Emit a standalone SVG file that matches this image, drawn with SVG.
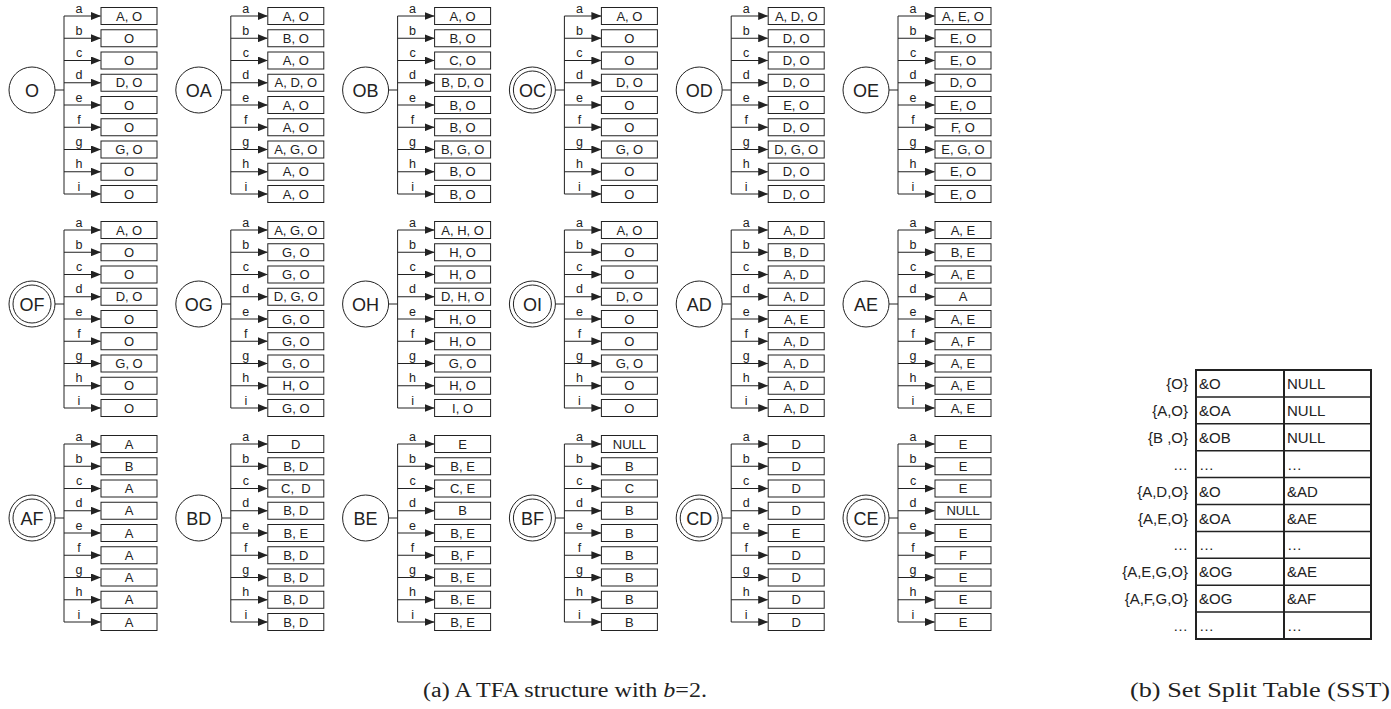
<svg xmlns="http://www.w3.org/2000/svg" xmlns:xlink="http://www.w3.org/1999/xlink" width="1391" height="709" viewBox="0 0 1391 709">
<style>
.ln{stroke:#222;stroke-width:1;fill:none}
.lab{font-family:"Liberation Sans",Arial,sans-serif;font-size:12.5px;fill:#222;text-anchor:middle}
.bx{fill:#fff;stroke:#222;stroke-width:1}
.bt{font-family:"Liberation Sans",Arial,sans-serif;font-size:13px;fill:#222;text-anchor:middle}
.cir{fill:#fff;stroke:#222;stroke-width:1}
.nm{font-family:"Liberation Sans",Arial,sans-serif;font-size:18px;fill:#222;text-anchor:middle}
.tl{stroke:#222;stroke-width:2;fill:none}
.th{stroke:#222;stroke-width:1.5;fill:none}
.tt{font-family:"Liberation Sans",Arial,sans-serif;font-size:15px;fill:#222}
.cap{font-family:"Liberation Serif","Times New Roman",serif;font-size:20px;fill:#222}
</style>
<defs>
<marker id="ah" markerWidth="10" markerHeight="8" refX="9.5" refY="4" orient="auto" markerUnits="userSpaceOnUse">
<path d="M0,0 L10,4 L0,8 z" fill="#222"/>
</marker>
<g id="fan">
<path class="ln" d="M55,90 H64 M64,16 V194"/>
<path class="ln" marker-end="url(#ah)" d="M64,16 H100.5"/>
<path class="ln" marker-end="url(#ah)" d="M64,38.25 H100.5"/>
<path class="ln" marker-end="url(#ah)" d="M64,60.5 H100.5"/>
<path class="ln" marker-end="url(#ah)" d="M64,82.75 H100.5"/>
<path class="ln" marker-end="url(#ah)" d="M64,105 H100.5"/>
<path class="ln" marker-end="url(#ah)" d="M64,127.25 H100.5"/>
<path class="ln" marker-end="url(#ah)" d="M64,149.5 H100.5"/>
<path class="ln" marker-end="url(#ah)" d="M64,171.75 H100.5"/>
<path class="ln" marker-end="url(#ah)" d="M64,194 H100.5"/>
<text class="lab" x="79" y="12.5">a</text>
<text class="lab" x="79" y="34.75">b</text>
<text class="lab" x="79" y="57">c</text>
<text class="lab" x="79" y="79.25">d</text>
<text class="lab" x="79" y="101.5">e</text>
<text class="lab" x="79" y="123.75">f</text>
<text class="lab" x="79" y="146">g</text>
<text class="lab" x="79" y="168.25">h</text>
<text class="lab" x="79" y="190.5">i</text>
</g>
<g id="boxes">
<rect class="bx" x="101" y="7.5" width="56" height="17"/>
<rect class="bx" x="101" y="29.75" width="56" height="17"/>
<rect class="bx" x="101" y="52" width="56" height="17"/>
<rect class="bx" x="101" y="74.25" width="56" height="17"/>
<rect class="bx" x="101" y="96.5" width="56" height="17"/>
<rect class="bx" x="101" y="118.75" width="56" height="17"/>
<rect class="bx" x="101" y="141" width="56" height="17"/>
<rect class="bx" x="101" y="163.25" width="56" height="17"/>
<rect class="bx" x="101" y="185.5" width="56" height="17"/>
</g>
<g id="c1"><circle class="cir" cx="32" cy="90" r="23"/></g>
<g id="c2"><circle class="cir" cx="32" cy="90" r="23"/><circle class="cir" cx="32" cy="90" r="19"/></g>
</defs>

<g id="connectors">
<use xlink:href="#fan" transform="translate(0,0)"/>
<use xlink:href="#fan" transform="translate(166.8,0)"/>
<use xlink:href="#fan" transform="translate(333.6,0)"/>
<use xlink:href="#fan" transform="translate(500.4,0)"/>
<use xlink:href="#fan" transform="translate(667.2,0)"/>
<use xlink:href="#fan" transform="translate(834,0)"/>
<use xlink:href="#fan" transform="translate(0,214)"/>
<use xlink:href="#fan" transform="translate(166.8,214)"/>
<use xlink:href="#fan" transform="translate(333.6,214)"/>
<use xlink:href="#fan" transform="translate(500.4,214)"/>
<use xlink:href="#fan" transform="translate(667.2,214)"/>
<use xlink:href="#fan" transform="translate(834,214)"/>
<use xlink:href="#fan" transform="translate(0,428)"/>
<use xlink:href="#fan" transform="translate(166.8,428)"/>
<use xlink:href="#fan" transform="translate(333.6,428)"/>
<use xlink:href="#fan" transform="translate(500.4,428)"/>
<use xlink:href="#fan" transform="translate(667.2,428)"/>
<use xlink:href="#fan" transform="translate(834,428)"/>
</g>

<g id="node-O" transform="translate(0,0)">
<use xlink:href="#c1"/><text class="nm" x="32" y="96.5">O</text>
<use xlink:href="#boxes"/>
<text class="bt" x="129" y="20.7">A, O</text><text class="bt" x="129" y="42.95">O</text><text class="bt" x="129" y="65.2">O</text><text class="bt" x="129" y="87.45">D, O</text><text class="bt" x="129" y="109.7">O</text><text class="bt" x="129" y="131.95">O</text><text class="bt" x="129" y="154.2">G, O</text><text class="bt" x="129" y="176.45">O</text><text class="bt" x="129" y="198.7">O</text>
</g>
<g id="node-OA" transform="translate(166.8,0)">
<use xlink:href="#c1"/><text class="nm" x="32" y="96.5">OA</text>
<use xlink:href="#boxes"/>
<text class="bt" x="129" y="20.7">A, O</text><text class="bt" x="129" y="42.95">B, O</text><text class="bt" x="129" y="65.2">A, O</text><text class="bt" x="129" y="87.45">A, D, O</text><text class="bt" x="129" y="109.7">A, O</text><text class="bt" x="129" y="131.95">A, O</text><text class="bt" x="129" y="154.2">A, G, O</text><text class="bt" x="129" y="176.45">A, O</text><text class="bt" x="129" y="198.7">A, O</text>
</g>
<g id="node-OB" transform="translate(333.6,0)">
<use xlink:href="#c1"/><text class="nm" x="32" y="96.5">OB</text>
<use xlink:href="#boxes"/>
<text class="bt" x="129" y="20.7">A, O</text><text class="bt" x="129" y="42.95">B, O</text><text class="bt" x="129" y="65.2">C, O</text><text class="bt" x="129" y="87.45">B, D, O</text><text class="bt" x="129" y="109.7">B, O</text><text class="bt" x="129" y="131.95">B, O</text><text class="bt" x="129" y="154.2">B, G, O</text><text class="bt" x="129" y="176.45">B, O</text><text class="bt" x="129" y="198.7">B, O</text>
</g>
<g id="node-OC" transform="translate(500.4,0)">
<use xlink:href="#c2"/><text class="nm" x="32" y="96.5">OC</text>
<use xlink:href="#boxes"/>
<text class="bt" x="129" y="20.7">A, O</text><text class="bt" x="129" y="42.95">O</text><text class="bt" x="129" y="65.2">O</text><text class="bt" x="129" y="87.45">D, O</text><text class="bt" x="129" y="109.7">O</text><text class="bt" x="129" y="131.95">O</text><text class="bt" x="129" y="154.2">G, O</text><text class="bt" x="129" y="176.45">O</text><text class="bt" x="129" y="198.7">O</text>
</g>
<g id="node-OD" transform="translate(667.2,0)">
<use xlink:href="#c1"/><text class="nm" x="32" y="96.5">OD</text>
<use xlink:href="#boxes"/>
<text class="bt" x="129" y="20.7">A, D, O</text><text class="bt" x="129" y="42.95">D, O</text><text class="bt" x="129" y="65.2">D, O</text><text class="bt" x="129" y="87.45">D, O</text><text class="bt" x="129" y="109.7">E, O</text><text class="bt" x="129" y="131.95">D, O</text><text class="bt" x="129" y="154.2">D, G, O</text><text class="bt" x="129" y="176.45">D, O</text><text class="bt" x="129" y="198.7">D, O</text>
</g>
<g id="node-OE" transform="translate(834,0)">
<use xlink:href="#c1"/><text class="nm" x="32" y="96.5">OE</text>
<use xlink:href="#boxes"/>
<text class="bt" x="129" y="20.7">A, E, O</text><text class="bt" x="129" y="42.95">E, O</text><text class="bt" x="129" y="65.2">E, O</text><text class="bt" x="129" y="87.45">D, O</text><text class="bt" x="129" y="109.7">E, O</text><text class="bt" x="129" y="131.95">F, O</text><text class="bt" x="129" y="154.2">E, G, O</text><text class="bt" x="129" y="176.45">E, O</text><text class="bt" x="129" y="198.7">E, O</text>
</g>

<g id="node-OF" transform="translate(0,214)">
<use xlink:href="#c2"/><text class="nm" x="32" y="96.5">OF</text>
<use xlink:href="#boxes"/>
<text class="bt" x="129" y="20.7">A, O</text><text class="bt" x="129" y="42.95">O</text><text class="bt" x="129" y="65.2">O</text><text class="bt" x="129" y="87.45">D, O</text><text class="bt" x="129" y="109.7">O</text><text class="bt" x="129" y="131.95">O</text><text class="bt" x="129" y="154.2">G, O</text><text class="bt" x="129" y="176.45">O</text><text class="bt" x="129" y="198.7">O</text>
</g>
<g id="node-OG" transform="translate(166.8,214)">
<use xlink:href="#c1"/><text class="nm" x="32" y="96.5">OG</text>
<use xlink:href="#boxes"/>
<text class="bt" x="129" y="20.7">A, G, O</text><text class="bt" x="129" y="42.95">G, O</text><text class="bt" x="129" y="65.2">G, O</text><text class="bt" x="129" y="87.45">D, G, O</text><text class="bt" x="129" y="109.7">G, O</text><text class="bt" x="129" y="131.95">G, O</text><text class="bt" x="129" y="154.2">G, O</text><text class="bt" x="129" y="176.45">H, O</text><text class="bt" x="129" y="198.7">G, O</text>
</g>
<g id="node-OH" transform="translate(333.6,214)">
<use xlink:href="#c1"/><text class="nm" x="32" y="96.5">OH</text>
<use xlink:href="#boxes"/>
<text class="bt" x="129" y="20.7">A, H, O</text><text class="bt" x="129" y="42.95">H, O</text><text class="bt" x="129" y="65.2">H, O</text><text class="bt" x="129" y="87.45">D, H, O</text><text class="bt" x="129" y="109.7">H, O</text><text class="bt" x="129" y="131.95">H, O</text><text class="bt" x="129" y="154.2">G, O</text><text class="bt" x="129" y="176.45">H, O</text><text class="bt" x="129" y="198.7">I, O</text>
</g>
<g id="node-OI" transform="translate(500.4,214)">
<use xlink:href="#c2"/><text class="nm" x="32" y="96.5">OI</text>
<use xlink:href="#boxes"/>
<text class="bt" x="129" y="20.7">A, O</text><text class="bt" x="129" y="42.95">O</text><text class="bt" x="129" y="65.2">O</text><text class="bt" x="129" y="87.45">D, O</text><text class="bt" x="129" y="109.7">O</text><text class="bt" x="129" y="131.95">O</text><text class="bt" x="129" y="154.2">G, O</text><text class="bt" x="129" y="176.45">O</text><text class="bt" x="129" y="198.7">O</text>
</g>
<g id="node-AD" transform="translate(667.2,214)">
<use xlink:href="#c1"/><text class="nm" x="32" y="96.5">AD</text>
<use xlink:href="#boxes"/>
<text class="bt" x="129" y="20.7">A, D</text><text class="bt" x="129" y="42.95">B, D</text><text class="bt" x="129" y="65.2">A, D</text><text class="bt" x="129" y="87.45">A, D</text><text class="bt" x="129" y="109.7">A, E</text><text class="bt" x="129" y="131.95">A, D</text><text class="bt" x="129" y="154.2">A, D</text><text class="bt" x="129" y="176.45">A, D</text><text class="bt" x="129" y="198.7">A, D</text>
</g>
<g id="node-AE" transform="translate(834,214)">
<use xlink:href="#c1"/><text class="nm" x="32" y="96.5">AE</text>
<use xlink:href="#boxes"/>
<text class="bt" x="129" y="20.7">A, E</text><text class="bt" x="129" y="42.95">B, E</text><text class="bt" x="129" y="65.2">A, E</text><text class="bt" x="129" y="87.45">A</text><text class="bt" x="129" y="109.7">A, E</text><text class="bt" x="129" y="131.95">A, F</text><text class="bt" x="129" y="154.2">A, E</text><text class="bt" x="129" y="176.45">A, E</text><text class="bt" x="129" y="198.7">A, E</text>
</g>

<g id="node-AF" transform="translate(0,428)">
<use xlink:href="#c2"/><text class="nm" x="32" y="96.5">AF</text>
<use xlink:href="#boxes"/>
<text class="bt" x="129" y="20.7">A</text><text class="bt" x="129" y="42.95">B</text><text class="bt" x="129" y="65.2">A</text><text class="bt" x="129" y="87.45">A</text><text class="bt" x="129" y="109.7">A</text><text class="bt" x="129" y="131.95">A</text><text class="bt" x="129" y="154.2">A</text><text class="bt" x="129" y="176.45">A</text><text class="bt" x="129" y="198.7">A</text>
</g>
<g id="node-BD" transform="translate(166.8,428)">
<use xlink:href="#c1"/><text class="nm" x="32" y="96.5">BD</text>
<use xlink:href="#boxes"/>
<text class="bt" x="129" y="20.7">D</text><text class="bt" x="129" y="42.95">B, D</text><text class="bt" x="129" y="65.2" xml:space="preserve">C,  D</text><text class="bt" x="129" y="87.45">B, D</text><text class="bt" x="129" y="109.7">B, E</text><text class="bt" x="129" y="131.95">B, D</text><text class="bt" x="129" y="154.2">B, D</text><text class="bt" x="129" y="176.45">B, D</text><text class="bt" x="129" y="198.7">B, D</text>
</g>
<g id="node-BE" transform="translate(333.6,428)">
<use xlink:href="#c1"/><text class="nm" x="32" y="96.5">BE</text>
<use xlink:href="#boxes"/>
<text class="bt" x="129" y="20.7">E</text><text class="bt" x="129" y="42.95">B, E</text><text class="bt" x="129" y="65.2">C, E</text><text class="bt" x="129" y="87.45">B</text><text class="bt" x="129" y="109.7">B, E</text><text class="bt" x="129" y="131.95">B, F</text><text class="bt" x="129" y="154.2">B, E</text><text class="bt" x="129" y="176.45">B, E</text><text class="bt" x="129" y="198.7">B, E</text>
</g>
<g id="node-BF" transform="translate(500.4,428)">
<use xlink:href="#c2"/><text class="nm" x="32" y="96.5">BF</text>
<use xlink:href="#boxes"/>
<text class="bt" x="129" y="20.7">NULL</text><text class="bt" x="129" y="42.95">B</text><text class="bt" x="129" y="65.2">C</text><text class="bt" x="129" y="87.45">B</text><text class="bt" x="129" y="109.7">B</text><text class="bt" x="129" y="131.95">B</text><text class="bt" x="129" y="154.2">B</text><text class="bt" x="129" y="176.45">B</text><text class="bt" x="129" y="198.7">B</text>
</g>
<g id="node-CD" transform="translate(667.2,428)">
<use xlink:href="#c2"/><text class="nm" x="32" y="96.5">CD</text>
<use xlink:href="#boxes"/>
<text class="bt" x="129" y="20.7">D</text><text class="bt" x="129" y="42.95">D</text><text class="bt" x="129" y="65.2">D</text><text class="bt" x="129" y="87.45">D</text><text class="bt" x="129" y="109.7">E</text><text class="bt" x="129" y="131.95">D</text><text class="bt" x="129" y="154.2">D</text><text class="bt" x="129" y="176.45">D</text><text class="bt" x="129" y="198.7">D</text>
</g>
<g id="node-CE" transform="translate(834,428)">
<use xlink:href="#c2"/><text class="nm" x="32" y="96.5">CE</text>
<use xlink:href="#boxes"/>
<text class="bt" x="129" y="20.7">E</text><text class="bt" x="129" y="42.95">E</text><text class="bt" x="129" y="65.2">E</text><text class="bt" x="129" y="87.45">NULL</text><text class="bt" x="129" y="109.7">E</text><text class="bt" x="129" y="131.95">F</text><text class="bt" x="129" y="154.2">E</text><text class="bt" x="129" y="176.45">E</text><text class="bt" x="129" y="198.7">E</text>
</g>

<g id="sst">
<path class="th" d="M1196,396.9 H1371 M1196,423.8 H1371 M1196,450.7 H1371 M1196,477.6 H1371 M1196,504.5 H1371 M1196,531.4 H1371 M1196,558.3 H1371 M1196,585.2 H1371 M1196,612.1 H1371"/>
<rect class="tl" x="1196" y="370" width="175" height="269"/>
<path class="tl" d="M1284,370 V639"/>
<g class="tt">
<text x="1188" y="389" text-anchor="end">{O}</text>
<text x="1188" y="416" text-anchor="end">{A,O}</text>
<text x="1188" y="443" text-anchor="end">{B ,O}</text>
<text x="1188" y="470" text-anchor="end">…</text>
<text x="1188" y="497" text-anchor="end">{A,D,O}</text>
<text x="1188" y="524" text-anchor="end">{A,E,O}</text>
<text x="1188" y="550" text-anchor="end">…</text>
<text x="1188" y="577" text-anchor="end">{A,E,G,O}</text>
<text x="1188" y="604" text-anchor="end">{A,F,G,O}</text>
<text x="1188" y="631" text-anchor="end">…</text>
<text x="1199" y="389">&amp;O</text><text x="1287" y="389">NULL</text>
<text x="1199" y="416">&amp;OA</text><text x="1287" y="416">NULL</text>
<text x="1199" y="443">&amp;OB</text><text x="1287" y="443">NULL</text>
<text x="1199" y="470">…</text><text x="1287" y="470">…</text>
<text x="1199" y="497">&amp;O</text><text x="1287" y="497">&amp;AD</text>
<text x="1199" y="524">&amp;OA</text><text x="1287" y="524">&amp;AE</text>
<text x="1199" y="550">…</text><text x="1287" y="550">…</text>
<text x="1199" y="577">&amp;OG</text><text x="1287" y="577">&amp;AE</text>
<text x="1199" y="604">&amp;OG</text><text x="1287" y="604">&amp;AF</text>
<text x="1199" y="631">…</text><text x="1287" y="631">…</text>
</g>
</g>

<g id="captions">
<text class="cap" x="423" y="697" textLength="284" lengthAdjust="spacingAndGlyphs">(a) A TFA structure with <tspan font-style="italic">b</tspan>=2.</text>
<text class="cap" x="1130" y="697" textLength="260" lengthAdjust="spacingAndGlyphs">(b) Set Split Table (SST)</text>
</g>
</svg>
